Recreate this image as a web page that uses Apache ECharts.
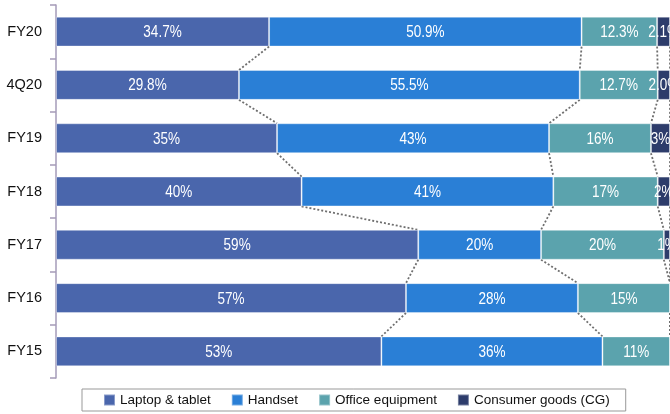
<!DOCTYPE html>
<html>
<head>
<meta charset="utf-8">
<script src="https://cdn.jsdelivr.net/npm/echarts@6/dist/echarts.min.js"></script>
<style>html,body{margin:0;padding:0;background:#fff;}#c{width:670px;height:414px;}</style>
</head>
<body>
<div id="c"></div>
<script>
// Categories bottom-to-top
const categories = ['FY15', 'FY16', 'FY17', 'FY18', 'FY19', '4Q20', 'FY20'];
const seriesNames = ['Laptop & tablet', 'Handset', 'Office equipment', 'Consumer goods (CG)'];
// Segment widths (share of total, %)
const laptop   = [53, 57, 59, 40, 36.0, 29.8, 34.7];
const handset  = [36, 28, 20, 41, 44.3, 55.5, 50.9];
const office   = [11, 15, 20, 17, 16.6, 12.7, 12.3];
const consumer = [0, 0, 1, 2, 3.1, 2.0, 2.1];
// Printed labels
const laptopLabels   = ['53%', '57%', '59%', '40%', '35%', '29.8%', '34.7%'];
const handsetLabels  = ['36%', '28%', '20%', '41%', '43%', '55.5%', '50.9%'];
const officeLabels   = ['11%', '15%', '20%', '17%', '16%', '12.7%', '12.3%'];
const consumerLabels = ['', '', '1%', '2%', '3%', '2.0%', '2.1%'];

const colors = ['#4A66AC', '#2A7FD6', '#5BA3AD', '#2D3C6B'];
const FONT = "'Liberation Sans', Arial, sans-serif";
const BAR_FRAC = 0.56;

const allVals = [laptop, handset, office, consumer];
const allLabels = [laptopLabels, handsetLabels, officeLabels, consumerLabels];

// connector data: boundaries between adjacent categories
const connData = [];
for (let k = 0; k < categories.length - 1; k++) {
  let cumLow = 0, cumUp = 0;
  for (let j = 0; j < allVals.length; j++) {
    cumLow += allVals[j][k];
    cumUp += allVals[j][k + 1];
    connData.push([cumUp, k + 1, cumLow, k]);
  }
}

// label data: segment midpoints
const labelData = [];
const labelText = [];
for (let k = 0; k < categories.length; k++) {
  let cum = 0;
  for (let j = 0; j < allVals.length; j++) {
    const v = allVals[j][k];
    if (v > 0) {
      labelData.push([cum + v / 2, k]);
      labelText.push(allLabels[j][k]);
    }
    cum += v;
  }
}

const series = allVals.map((vals, j) => ({
  name: seriesNames[j],
  type: 'bar',
  stack: 'total',
  barCategoryGap: '44%',
  data: vals,
  itemStyle: { color: colors[j], borderColor: 'rgba(255,255,255,0.35)', borderWidth: 1 },
  emphasis: { disabled: true }
}));

series.push({
  type: 'custom',
  coordinateSystem: 'cartesian2d',
  silent: true,
  encode: { x: [0, 2], y: [1, 3] },
  data: connData,
  renderItem: function (params, api) {
    const p1 = api.coord([api.value(0), api.value(1)]);
    const p2 = api.coord([api.value(2), api.value(3)]);
    const band = api.size([0, 1])[1];
    const h = band * BAR_FRAC / 2;
    return {
      type: 'line',
      shape: { x1: p1[0], y1: p1[1] + h, x2: p2[0], y2: p2[1] - h },
      style: { stroke: '#6f6f6f', lineWidth: 1.8, lineDash: [2, 2] }
    };
  },
  z: 1
});

series.push({
  type: 'custom',
  coordinateSystem: 'cartesian2d',
  silent: true,
  clip: false,
  encode: { x: 0, y: 1 },
  data: labelData,
  renderItem: function (params, api) {
    const p = api.coord([api.value(0), api.value(1)]);
    return {
      type: 'text',
      x: p[0],
      y: p[1] + 1,
      scaleX: 0.82,
      style: {
        text: labelText[params.dataIndex],
        x: 0, y: 0,
        align: 'center',
        verticalAlign: 'middle',
        fill: '#fff',
        fontFamily: FONT,
        fontSize: 16.5
      }
    };
  },
  z: 5
});

const chart = echarts.init(document.getElementById('c'));
chart.setOption({
  animation: false,
  grid: { left: 56, right: 0, top: 5, bottom: 36, containLabel: false },
  xAxis: { type: 'value', min: 0, max: 100, show: false },
  yAxis: {
    type: 'category',
    data: categories,
    axisLine: { show: true, lineStyle: { color: '#a59bb8', width: 1.5 } },
    axisTick: { show: true, length: 6, lineStyle: { color: '#a59bb8', width: 1.5 } },
    axisLabel: { color: '#111', fontFamily: FONT, fontSize: 14.5, margin: 14 }
  },
  legend: {
    data: seriesNames,
    left: 82,
    top: 389,
    itemWidth: 11,
    itemHeight: 11,
    itemGap: 20,
    padding: [4, 16, 4, 21],
    borderColor: '#999',
    borderWidth: 1,
    icon: 'rect',
    textStyle: { color: '#111', fontFamily: FONT, fontSize: 13.5 }
  },
  series: series
});
</script>
</body>
</html>
